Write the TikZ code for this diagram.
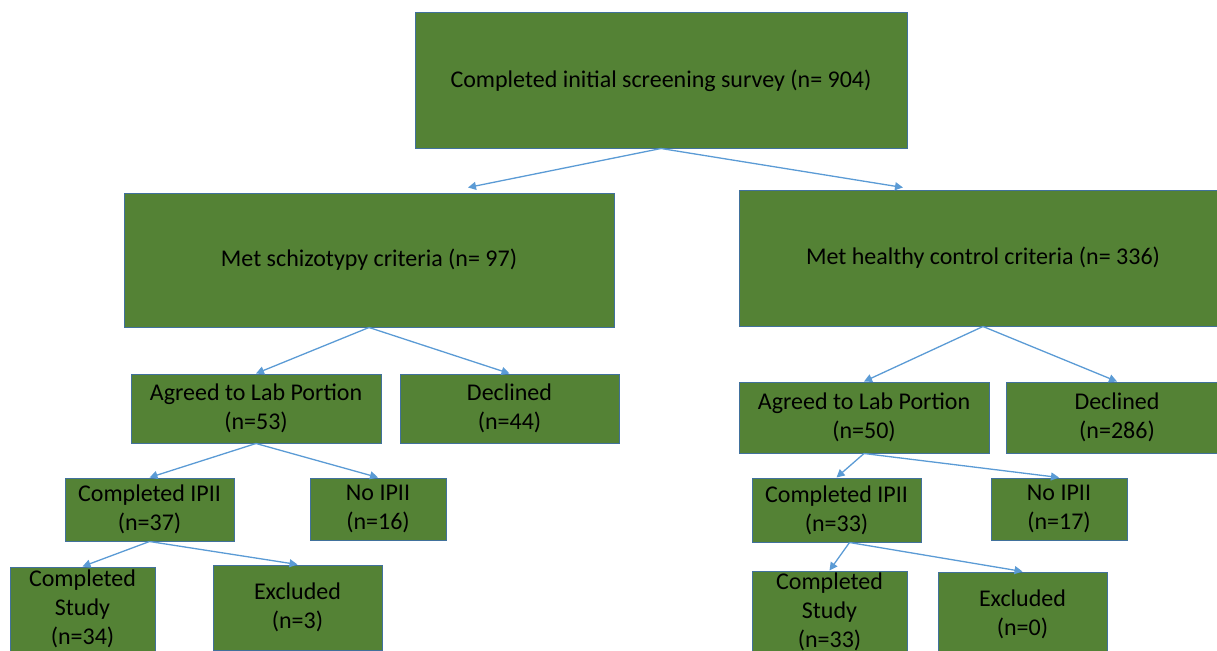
\documentclass[tikz,border=0pt]{standalone}
\usepackage{fontspec}
\setmainfont{Carlito}
\usetikzlibrary{arrows.meta}
\definecolor{boxgreen}{HTML}{548235}
\definecolor{boxline}{HTML}{41719C}
\definecolor{linkblue}{HTML}{5B9BD5}

\begin{document}
\begin{tikzpicture}[x=1pt,y=-1pt,
  box/.style={draw=boxline,fill=boxgreen,line width=1pt,align=center,inner sep=0pt,
    font=\fontsize{24}{29}\selectfont},
  link/.style={draw=linkblue,line width=1.3pt,-{Triangle[length=8pt,width=8pt]}}]
\useasboundingbox (0,0) rectangle (1217,650);
\clip (0,0) rectangle (1217,650);
% first level
\node[box,minimum width=492pt,minimum height=135pt] (survey) at (661,80.5) {Completed initial screening survey (n= 904)};
\node[box,minimum width=490pt,minimum height=134pt] (schizo) at (369,260) {Met schizotypy criteria (n= 97)};
\node[box,minimum width=488pt,minimum height=136pt] (healthy) at (983,258) {Met healthy control criteria (n= 336)};
% lab portion
\node[box,minimum width=250pt,minimum height=69pt] (agreeS) at (256,408.5) {Agreed to Lab Portion\\(n=53)};
\node[box,minimum width=219pt,minimum height=69pt] (declS) at (509.5,408.5) {Declined\\(n=44)};
\node[box,minimum width=250pt,minimum height=71pt] (agreeH) at (864,417.5) {Agreed to Lab Portion\\(n=50)};
\node[box,minimum width=222pt,minimum height=71pt] (declH) at (1117,417.5) {Declined\\(n=286)};
% IPII
\node[box,minimum width=169pt,minimum height=63pt] (ipiiS) at (149.5,509.5) {Completed IPII\\(n=37)};
\node[box,minimum width=136pt,minimum height=62pt] (noipiiS) at (378,509) {No IPII\\(n=16)};
\node[box,minimum width=169pt,minimum height=64pt] (ipiiH) at (836.5,510) {Completed IPII\\(n=33)};
\node[box,minimum width=136pt,minimum height=62pt] (noipiiH) at (1059,509) {No IPII\\(n=17)};
% study
\node[box,minimum width=145pt,minimum height=84pt] (studyS) at (82.5,609) {Completed\\Study\\(n=34)};
\node[box,minimum width=169pt,minimum height=85pt] (exclS) at (297.5,607.5) {Excluded\\(n=3)};
\node[box,minimum width=155pt,minimum height=82pt] (studyH) at (829.5,612) {Completed\\Study\\(n=33)};
\node[box,minimum width=169pt,minimum height=85pt] (exclH) at (1022.5,614.5) {Excluded\\(n=0)};
% arrows
\draw[link] (survey.south) -- ([xshift=99pt,yshift=5pt]schizo.north);
\draw[link] (survey.south) -- ([xshift=-80pt,yshift=2pt]healthy.north);
\foreach \from/\to in {schizo/agreeS, schizo/declS, healthy/agreeH, healthy/declH,
  agreeS/ipiiS, agreeS/noipiiS, agreeH/ipiiH, agreeH/noipiiH, ipiiS/studyS, ipiiS/exclS}
  \draw[link] (\from.south) -- (\to.north);
\draw[link] ([xshift=13pt]ipiiH.south) -- (studyH.north);
\draw[link] ([xshift=13pt]ipiiH.south) -- (exclH.north);
\end{tikzpicture}
\end{document}
